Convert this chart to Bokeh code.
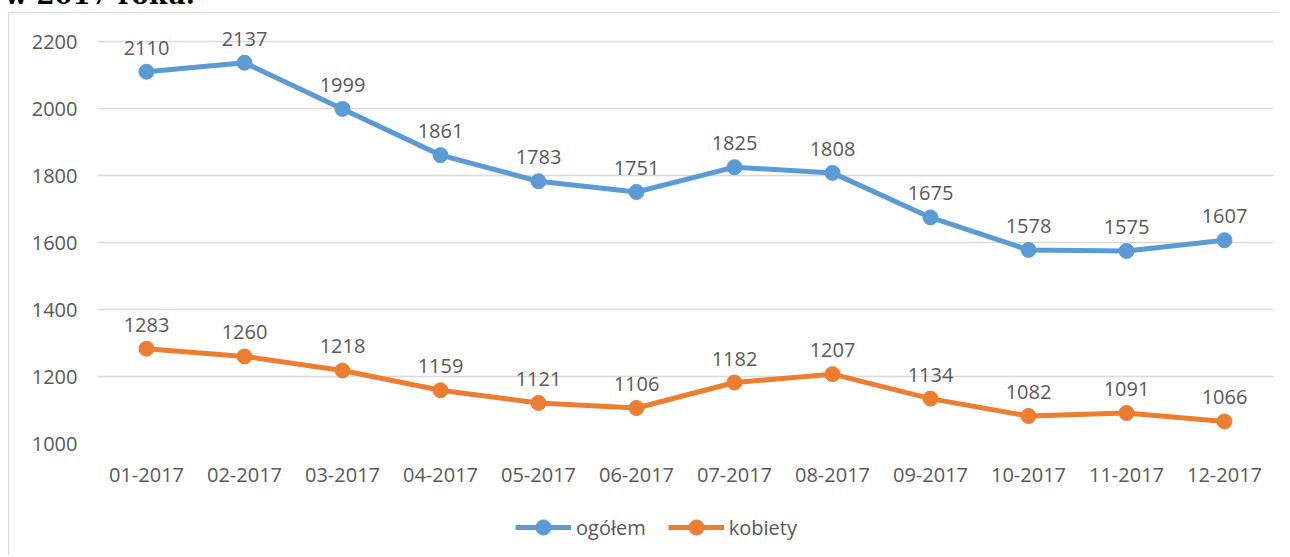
from bokeh.plotting import figure
from bokeh.models import ColumnDataSource, Legend, LegendItem, Range1d, FixedTicker, Div
from bokeh.layouts import column
from bokeh.embed import file_html
from bokeh.resources import INLINE
from bokeh.core.properties import value

months = ["01-2017", "02-2017", "03-2017", "04-2017", "05-2017", "06-2017",
          "07-2017", "08-2017", "09-2017", "10-2017", "11-2017", "12-2017"]
ogolem = [2110, 2137, 1999, 1861, 1783, 1751, 1825, 1808, 1675, 1578, 1575, 1607]
kobiety = [1283, 1260, 1218, 1159, 1121, 1106, 1182, 1207, 1134, 1082, 1091, 1066]
y_ticks = [1000, 1200, 1400, 1600, 1800, 2000, 2200]
series_names = ["ogółem", "kobiety"]
heading = "w 2017 roku."

BLUE = "#5B9BD5"
ORANGE = "#ED7D31"
TXT = "#595959"
GRID = "#D9D9D9"
FONT = "Open Sans"

src = ColumnDataSource(dict(m=months, a=ogolem, b=kobiety,
                            la=[str(v) for v in ogolem], lb=[str(v) for v in kobiety]))

p = figure(x_range=months, y_range=Range1d(1000, 2260), width=1270, height=487,
           output_backend="svg", toolbar_location=None,
           min_border_left=88, min_border_right=6, min_border_top=8, min_border_bottom=57)
p.outline_line_color = None
p.background_fill_color = "white"
p.border_fill_color = "white"

p.xgrid.grid_line_color = None
p.ygrid.grid_line_color = GRID
p.ygrid.grid_line_width = 1.5
p.yaxis.ticker = FixedTicker(ticks=y_ticks)

for ax in (p.xaxis, p.yaxis):
    ax.axis_line_color = None
    ax.major_tick_line_color = None
    ax.minor_tick_line_color = None
    ax.major_label_text_color = TXT
    ax.major_label_text_font = FONT
    ax.major_label_text_font_size = "20px"
p.yaxis.major_label_standoff = 14
p.xaxis.major_label_standoff = 18

p.line("m", "a", source=src, line_color=BLUE, line_width=5)
p.scatter("m", "a", source=src, size=15, fill_color=BLUE, line_color=BLUE)
p.line("m", "b", source=src, line_color=ORANGE, line_width=5)
p.scatter("m", "b", source=src, size=15, fill_color=ORANGE, line_color=ORANGE)

for col, lab in (("a", "la"), ("b", "lb")):
    p.text("m", col, text=lab, source=src, text_align="center", text_baseline="middle",
           y_offset=-24, text_color=TXT, text_font=value(FONT), text_font_size="20px")

# legend strip
p2 = figure(x_range=Range1d(0, 1), y_range=Range1d(0, 1), width=1270, height=55,
            output_backend="svg", toolbar_location=None,
            x_axis_location=None, y_axis_location=None,
            min_border_left=0, min_border_right=0, min_border_top=0, min_border_bottom=0)
p2.grid.visible = False
p2.outline_line_color = None
p2.border_fill_color = "white"
nan = float("nan")
items = []
for name, c in zip(series_names, (BLUE, ORANGE)):
    r1 = p2.line(x=[nan, nan], y=[nan, nan], line_color=c, line_width=5)
    r2 = p2.scatter(x=[nan], y=[nan], size=15, fill_color=c, line_color=c)
    items.append(LegendItem(label=name, renderers=[r1, r2]))
legend = Legend(items=items, orientation="horizontal", location=(418, 9),
                glyph_width=56, glyph_height=38, label_standoff=5, spacing=22,
                label_text_font=FONT, label_text_font_size="20px", label_text_color=TXT,
                border_line_color=None, background_fill_alpha=0,
                padding=0, margin=0)
p2.add_layout(legend, "center")

chart = column(p, p2, styles={"border-left": "1px solid #D9D9D9",
                              "border-top": "1px solid #D9D9D9",
                              "margin-left": "8px"})

title = Div(text=heading, width=400, height=24,
            styles={"font-family": "DejaVu Serif", "font-weight": "bold",
                    "font-size": "26px", "line-height": "25px", "color": "#000000",
                    "margin-top": "-17px", "overflow": "visible"})

layout = column(title, chart)

open("out.html", "w").write(file_html(layout, INLINE))
